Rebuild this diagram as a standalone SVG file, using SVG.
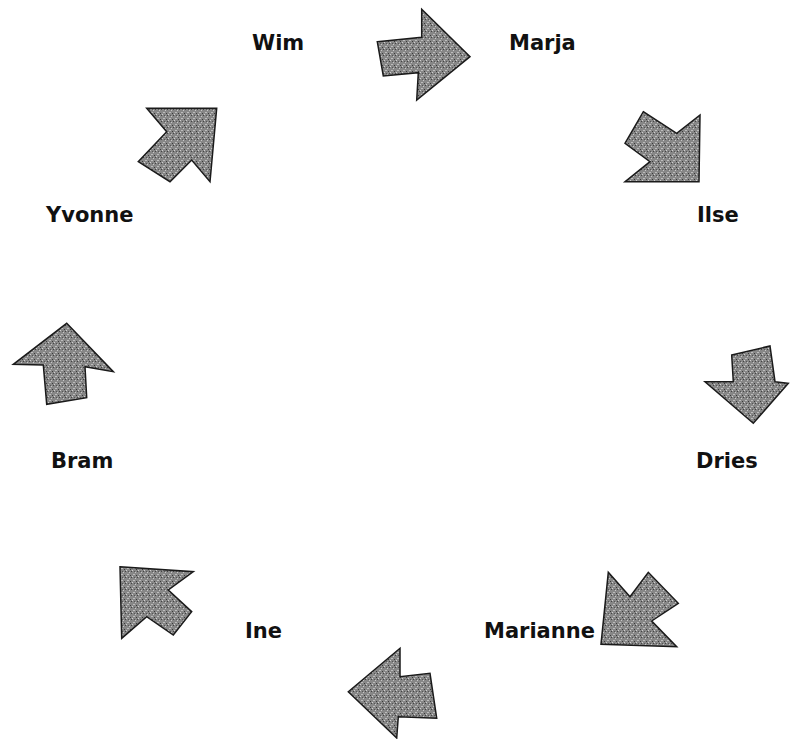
<svg xmlns="http://www.w3.org/2000/svg" width="795" height="739" viewBox="0 0 795 739">
<style>
.lbl{font-family:"DejaVu Sans",Verdana,sans-serif;font-weight:bold;font-size:21px;fill:#111}
.arr{fill:url(#tex);stroke:#1a1a1a;stroke-width:1.5;stroke-linejoin:miter}
</style>
<defs>
<pattern id="tex" width="6" height="6" patternUnits="userSpaceOnUse">
<rect width="6" height="6" fill="#878787"/>
<rect x="0" y="0" width="1" height="1" fill="#d0d0d0"/>
<rect x="3" y="2" width="1" height="1" fill="#c8c8c8"/>
<rect x="1" y="4" width="2" height="1" fill="#bdbdbd"/>
<rect x="4" y="5" width="1" height="1" fill="#3a3a3a"/>
<rect x="5" y="1" width="1" height="1" fill="#444"/>
<rect x="2" y="1" width="1" height="1" fill="#555"/>
</pattern>
</defs>
<rect width="795" height="739" fill="#fff"/>
<g id="labels">
<g id="wim"><text class="lbl" x="252" y="50">Wim</text></g>
<g id="marja"><text class="lbl" x="509" y="50">Marja</text></g>
<g id="yvonne"><text class="lbl" x="46" y="222">Yvonne</text></g>
<g id="ilse"><text class="lbl" x="697" y="222">Ilse</text></g>
<g id="bram"><text class="lbl" x="51" y="468">Bram</text></g>
<g id="dries"><text class="lbl" x="696" y="468">Dries</text></g>
<g id="ine"><text class="lbl" x="245" y="638">Ine</text></g>
<g id="marianne"><text class="lbl" x="484" y="638">Marianne</text></g>
</g>
<g id="connectors">
<polygon class="arr" points="377.3,41.7 421.7,37.3 421.7,9.3 470,56.7 416.7,100 418.3,72.7 383.3,76"/>
<polygon class="arr" points="643.3,111.7 676.7,133.3 700,115 699,181.7 625,181.7 650,161.7 625,143.3"/>
<polygon class="arr" points="731.7,355 770,346 775,381.7 788.3,383.3 753.3,423.3 705,381.7 733.3,381.7"/>
<polygon class="arr" points="608.3,572.3 630,596.7 648.3,572.3 678.3,603.3 651.7,621 676.7,646.7 601,644.3"/>
<polygon class="arr" points="348.3,691.7 400,648.3 400,676.7 430,673.3 436.7,718.3 398.3,716.7 396.7,738"/>
<polygon class="arr" points="120,566.7 193.3,571.7 168.3,590 191.7,611.7 173.3,635 146.7,616.7 121.7,638.3"/>
<polygon class="arr" points="66.7,323.3 113.3,371.7 85,366.7 86.7,397.7 46.7,404.3 43.3,365 13.3,364.3"/>
<polygon class="arr" points="146.7,108.3 216.7,108.3 210,181.7 191.7,160 170,181.7 138.3,161.7 166.7,131.7"/>
</g>
</svg>
